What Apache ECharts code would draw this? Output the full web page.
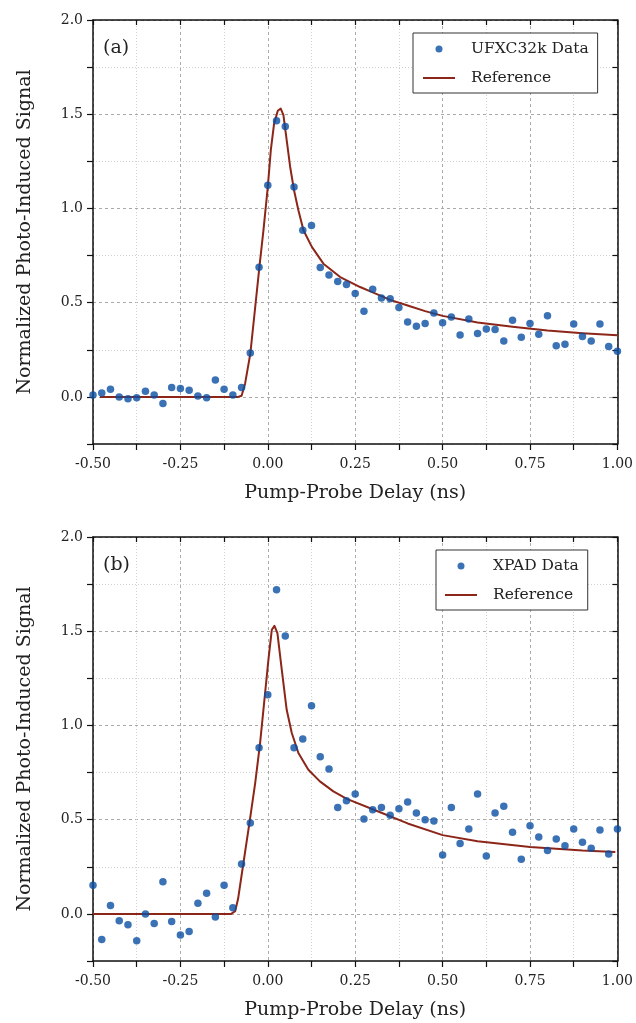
<!DOCTYPE html>
<html>
<head>
<meta charset="utf-8">
<script src="https://cdn.jsdelivr.net/npm/echarts@6/dist/echarts.min.js"></script>
<style>
	body { margin:0; background:#fff; }
	#delayContainer { width:636px; height:1023px; }
</style>
</head>
<body>
<div id="delayContainer"></div>

<script>
var delays = [-0.5,-0.475,-0.45,-0.425,-0.4,-0.375,-0.35,-0.325,-0.3,-0.275,-0.25,-0.225,-0.2,-0.175,-0.15,-0.125,-0.1,-0.075,-0.05,-0.025,
	0,0.025,0.05,0.075,0.1,0.125,0.15,0.175,0.2,0.225,0.25,0.275,0.3,0.325,0.35,0.375,0.4,0.425,0.45,0.475,
	0.5,0.525,0.55,0.575,0.6,0.625,0.65,0.675,0.7,0.725,0.75,0.775,0.8,0.825,0.85,0.875,0.9,0.925,0.95,0.975,1.0];

var ufxc = [0.01,0.02,0.04,0.0,-0.01,-0.005,0.03,0.01,-0.035,0.05,0.045,0.035,0.005,-0.005,0.09,0.04,0.01,0.05,0.233,0.688,
	1.123,1.465,1.435,1.114,0.884,0.909,0.686,0.647,0.612,0.596,0.548,0.454,0.571,0.525,0.521,0.474,0.398,0.375,0.389,0.445,
	0.394,0.424,0.329,0.413,0.336,0.36,0.357,0.297,0.407,0.316,0.389,0.332,0.431,0.272,0.279,0.387,0.32,0.297,0.387,0.268,0.242];

var xpad = [0.152,-0.136,0.044,-0.036,-0.058,-0.142,0.0,-0.051,0.17,-0.041,-0.112,-0.094,0.056,0.109,-0.016,0.152,0.032,0.265,0.482,0.882,
	1.163,1.72,1.474,0.882,0.928,1.104,0.834,0.769,0.565,0.601,0.636,0.504,0.553,0.565,0.523,0.558,0.594,0.535,0.5,0.493,
	0.313,0.565,0.374,0.451,0.636,0.307,0.535,0.571,0.433,0.29,0.468,0.408,0.337,0.398,0.362,0.451,0.38,0.348,0.445,0.318,0.451];

// reference curves
var refAX = [-0.48,-0.2,-0.085,-0.075,-0.065,-0.05,-0.036,-0.024,-0.0125,0.0,0.0086,0.018,0.0286,0.037,0.0447,0.054,0.064,0.075,0.0875,0.102,0.126,0.159,0.207,0.264,0.3,0.35,0.4,0.45,0.5,0.6,0.7,0.8,0.9,1.0];
var refAY = [0,0,0,0.006,0.07,0.23,0.477,0.69,0.884,1.114,1.309,1.45,1.518,1.53,1.495,1.362,1.22,1.097,0.99,0.884,0.796,0.707,0.636,0.583,0.555,0.515,0.485,0.455,0.43,0.395,0.372,0.352,0.338,0.327];

var refBX = [-0.5,-0.2,-0.105,-0.0934,-0.085,-0.074,-0.0526,-0.036,-0.022,-0.0097,0.0017,0.0114,0.019,0.0275,0.04,0.054,0.0686,0.0875,0.116,0.149,0.1875,0.226,0.3,0.4,0.5,0.6,0.75,0.9,0.994];
var refBY = [0,0,0,0.014,0.08,0.217,0.482,0.695,0.907,1.136,1.348,1.507,1.529,1.49,1.295,1.083,0.96,0.854,0.765,0.703,0.65,0.61,0.555,0.48,0.418,0.385,0.355,0.336,0.329];

var xTicks = { min:-0.5, max:1.0, step:0.25 };
var yTicks = { min:-0.25, max:2.0, step:0.25 };

var serif = 'DejaVu Serif';
var dotIcon = 'path://M0 0M43 18M12.5 9a3.5 3.5 0 1 0 7 0a3.5 3.5 0 1 0 -7 0z';
var lineIcon = 'path://M0 0M43 18M0 8h32v2h-32z';

function pairs(X, Y){
	var out = [];
	for(var i = 0;i<X.length;i++){
		out.push([X[i], Y[i]]);
	}
	return out;
}

var myChart = echarts.init(document.getElementById('delayContainer'));

var gridTops = [20, 537];
var grids = [], xAxes = [], yAxes = [];
for(var g = 0;g<2;g++){
	grids.push({ left:93, right:18, top:gridTops[g], height:424 });
	xAxes.push({
		gridIndex : g,
		type : 'value',
		min : xTicks.min, max : xTicks.max, interval : xTicks.step,
		position : 'bottom',
		name : 'Pump-Probe Delay (ns)',
		nameLocation : 'middle',
		nameGap : 40,
		nameTextStyle : { fontFamily:serif, fontSize:19, color:'#222' },
		axisLine : { onZero:false, lineStyle:{ color:'#111', width:1.5 } },
		axisTick : { inside:false, length:6, lineStyle:{ color:'#111', width:1.2 } },
		minorTick : { show:true, splitNumber:2, length:6, lineStyle:{ color:'#111', width:1.2 } },
		axisLabel : {
			margin : 13,
			fontFamily : serif, fontSize : 14, color : '#222',
			formatter : function(v){ return v.toFixed(2); }
		},
		splitLine : { show:true, lineStyle:{ color:'#aaa', type:[3,3], width:1 } },
		minorSplitLine : { show:true, lineStyle:{ color:'#d0d0d0', type:[1,2], width:1 } }
	});
	xAxes.push({
		gridIndex : g,
		type : 'value',
		min : xTicks.min, max : xTicks.max, interval : xTicks.step / 2,
		position : 'top',
		axisLine : { onZero:false, lineStyle:{ color:'#111', width:1.5 } },
		axisTick : { inside:true, length:5, lineStyle:{ color:'#111', width:1.2 } },
		axisLabel : { show:false },
		splitLine : { show:false }
	});
	yAxes.push({
		gridIndex : g,
		type : 'value',
		min : yTicks.min, max : yTicks.max, interval : yTicks.step,
		position : 'left',
		name : 'Normalized Photo-Induced Signal',
		nameLocation : 'middle',
		nameGap : 58,
		nameTextStyle : { fontFamily:serif, fontSize:19, color:'#222' },
		axisLine : { show:true, onZero:false, lineStyle:{ color:'#111', width:1.5 } },
		axisTick : { show:true, inside:false, length:6, lineStyle:{ color:'#111', width:1.2 } },
		axisLabel : {
			margin : 10,
			fontFamily : serif, fontSize : 14, color : '#222',
			formatter : function(v){
				return Math.abs(Math.round(v * 4)) % 2 === 0 ? v.toFixed(1) : '';
			}
		},
		// dotted lines at the quarter values only
		splitLine : { show:true, lineStyle:{ color:['#d0d0d0','rgba(0,0,0,0)'], type:[1,2], width:1 } }
	});
	yAxes.push({
		gridIndex : g,
		type : 'value',
		min : yTicks.min, max : yTicks.max, interval : yTicks.step,
		position : 'left',
		axisLine : { show:false },
		axisTick : { show:false },
		axisLabel : { show:false },
		// dashed lines at the half values
		splitLine : { show:true, lineStyle:{ color:['rgba(0,0,0,0)','#aaa'], type:[3,3], width:1 } }
	});
	yAxes.push({
		gridIndex : g,
		type : 'value',
		min : yTicks.min, max : yTicks.max, interval : yTicks.step,
		position : 'right',
		axisLine : { show:true, onZero:false, lineStyle:{ color:'#111', width:1.5 } },
		axisTick : { show:true, inside:true, length:5, lineStyle:{ color:'#111', width:1.2 } },
		axisLabel : { show:false },
		splitLine : { show:false }
	});
}

var legendBase = {
	orient : 'vertical',
	backgroundColor : '#fff',
	borderColor : '#333',
	borderWidth : 1,
	borderRadius : 0,
	itemWidth : 43,
	itemHeight : 18,
	itemGap : 11,
	selectedMode : false,
	textStyle : { fontFamily:serif, fontSize:15.5, color:'#222' }
};

option = {
	animation : false,
	backgroundColor : '#fff',
	title : [
		{ text:'(a)', left:98, top:34, textStyle:{ fontFamily:serif, fontSize:19, fontWeight:'normal', color:'#222' } },
		{ text:'(b)', left:98, top:551, textStyle:{ fontFamily:serif, fontSize:19, fontWeight:'normal', color:'#222' } }
	],
	legend : [
		echarts.util.merge({
			left : 413, top : 33, padding : [7,9,6,10],
			data : [{ name:'UFXC32k Data', icon:dotIcon }, { name:'Reference', icon:lineIcon }]
		}, legendBase),
		echarts.util.merge({
			left : 436, top : 550, padding : [7,9,6,9],
			data : [{ name:'XPAD Data', icon:dotIcon }, { name:'Reference', icon:lineIcon }]
		}, legendBase)
	],
	grid : grids,
	xAxis : xAxes,
	yAxis : yAxes,
	series : [{
		type : 'line',
		name : 'Reference',
		xAxisIndex : 0, yAxisIndex : 0,
		data : pairs(refAX, refAY),
		symbol : 'none',
		smooth : false,
		itemStyle : { color:'#8c2619', borderWidth:0 },
		lineStyle : { color:'#8c2619', width:2, join:'round' },
		z : 3
	},{
		type : 'scatter',
		name : 'UFXC32k Data',
		xAxisIndex : 0, yAxisIndex : 0,
		data : pairs(delays, ufxc),
		symbol : 'circle',
		symbolSize : 7.5,
		itemStyle : { color:'#0a4fa3' },
		z : 4
	},{
		type : 'line',
		name : 'Reference',
		xAxisIndex : 2, yAxisIndex : 3,
		data : pairs(refBX, refBY),
		symbol : 'none',
		smooth : false,
		itemStyle : { color:'#8c2619', borderWidth:0 },
		lineStyle : { color:'#8c2619', width:2, join:'round' },
		z : 3
	},{
		type : 'scatter',
		name : 'XPAD Data',
		xAxisIndex : 2, yAxisIndex : 3,
		data : pairs(delays, xpad),
		symbol : 'circle',
		symbolSize : 7.5,
		itemStyle : { color:'#0a4fa3' },
		z : 4
	}]
};
myChart.setOption(option);
</script>
</body>
</html>
